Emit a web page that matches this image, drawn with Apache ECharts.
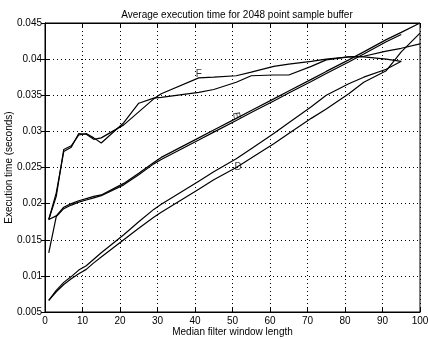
<!DOCTYPE html>
<html><head><meta charset="utf-8">
<script src="https://cdn.jsdelivr.net/npm/echarts@6/dist/echarts.min.js"></script>
<style>html,body{margin:0;padding:0;background:#fff}#c{width:428px;height:339px}</style>
</head><body><div id="c"></div>
<script>
var titleText = 'Average execution time for 2048 point sample buffer';
var xName = 'Median filter window length';
var yName = 'Execution time (seconds)';
var xTicks = [0,10,20,30,40,50,60,70,80,90,100];
var yTicks = [0.005,0.01,0.015,0.02,0.025,0.03,0.035,0.04,0.045];

var windowLen = [1,3,5,7,9,11,13,15,21,25,29,31,41,45,51,55,61,65,71,75,81,85,91,95,100];

var F1 = [0.0178,0.0215,0.0272,0.0278,0.0297,0.0296,0.0289,0.0291,0.0309,0.0327,0.0345,0.0352,0.0374,0.0375,0.0377,0.0382,0.0390,0.0393,0.0397,0.0400,0.0403,0.0404,0.0411,0.0415,0.0421];
var F2 = [0.0178,0.0210,0.0275,0.0280,0.0295,0.0297,0.0291,0.0284,0.0312,0.0339,0.0346,0.0347,0.0354,0.0358,0.0368,0.0377,0.0378,0.0378,0.0390,0.0399,0.0403,0.0403,0.0400,0.0397,null];
var E1 = [0.0178,0.0183,0.0195,0.0200,0.0204,0.0207,0.0210,0.0212,0.0228,0.0242,0.0257,0.0264,0.0291,0.0302,0.0318,0.0329,0.0345,0.0356,0.0372,0.0383,0.0399,0.0410,0.0427,0.0437,0.0450];
var E2 = [0.0132,0.0182,0.0193,0.0198,0.0202,0.0205,0.0208,0.0211,0.0226,0.0240,0.0255,0.0261,0.0288,0.0299,0.0315,0.0326,0.0342,0.0353,0.0369,0.0380,0.0396,0.0407,0.0424,0.0434,null];
var D1 = [0.0066,0.0080,0.0091,0.0099,0.0108,0.0114,0.0123,0.0132,0.0157,0.0175,0.0192,0.0199,0.0231,0.0244,0.0262,0.0276,0.0297,0.0312,0.0334,0.0350,0.0366,0.0375,0.0386,0.0397,null];
var D2 = [0.0066,0.0078,0.0088,0.0096,0.0103,0.0109,0.0118,0.0126,0.0150,0.0166,0.0181,0.0188,0.0220,0.0233,0.0250,0.0263,0.0283,0.0297,0.0318,0.0331,0.0352,0.0368,0.0384,0.0410,0.0436];

var labelText = ['F','E','D'];
var labelX = [41, 51, 51.5];
var labelY = [0.0379, 0.0322, 0.0251];
var labelRot = [0, -80, 0];

function pairs(ys){ var out=[]; for(var i=0;i<windowLen.length;i++){ if(ys[i]!=null) out.push([windowLen[i], ys[i]]);} return out; }
function lineSeries(name, ys){ return {name:name,type:'line',data:pairs(ys),symbol:'none',lineStyle:{color:'#000',width:1.2},silent:true,animation:false}; }

var font = 'Liberation Sans, Arial, sans-serif';
var chart = echarts.init(document.getElementById('c'), null, {renderer:'canvas'});
var gridSplit = {show:true,lineStyle:{color:'#000',type:[1,3],width:1}};
chart.setOption({
  animation:false,
  backgroundColor:'#fff',
  title:{text:titleText,left:232,top:5,textAlign:'center',textStyle:{fontFamily:font,fontSize:10,fontWeight:'normal',color:'#000'}},
  grid:{left:45,right:8,top:23,bottom:27,show:true,borderColor:'#000',borderWidth:1,backgroundColor:'transparent',outerBoundsMode:'none',containLabel:false},
  xAxis:[{type:'value',min:0,max:100,interval:10,name:xName,nameLocation:'middle',nameGap:15,nameMoveOverlap:false,
    nameTextStyle:{fontFamily:font,fontSize:10,color:'#000'},
    axisLine:{show:true,lineStyle:{color:'#000'}},axisTick:{inside:true,length:4,lineStyle:{color:'#000'}},
    axisLabel:{fontFamily:font,fontSize:10,color:'#000',margin:4,formatter:function(v){return xTicks.indexOf(v)>=0?String(v):'';}},
    splitLine:gridSplit},
   {type:'value',min:0,max:100,interval:10,position:'top',axisLine:{show:true,lineStyle:{color:'#000'}},axisTick:{inside:true,length:4,lineStyle:{color:'#000'}},axisLabel:{show:false},splitLine:{show:false}}],
  yAxis:[{type:'value',min:0.005,max:0.045,interval:0.005,name:yName,nameLocation:'middle',nameGap:31,nameMoveOverlap:false,
    nameTextStyle:{fontFamily:font,fontSize:10,color:'#000'},
    axisLine:{show:true,lineStyle:{color:'#000'}},axisTick:{inside:true,length:4,lineStyle:{color:'#000'}},
    axisLabel:{fontFamily:font,fontSize:10,color:'#000',margin:3,formatter:function(v){var r=+v.toFixed(3); return String(r);}},
    splitLine:gridSplit},
   {type:'value',min:0.005,max:0.045,interval:0.005,position:'right',axisLine:{show:true,lineStyle:{color:'#000'}},axisTick:{inside:true,length:4,lineStyle:{color:'#000'}},axisLabel:{show:false},splitLine:{show:false}}],
  series:[
    lineSeries('F1',F1),lineSeries('F2',F2),
    lineSeries('E1',E1),lineSeries('E2',E2),
    lineSeries('D1',D1),lineSeries('D2',D2),
    {type:'scatter',symbolSize:0,silent:true,animation:false,
     data:labelText.map(function(t,i){return {value:[labelX[i],labelY[i]],label:{show:true,formatter:t,position:'inside',rotate:labelRot[i],fontFamily:font,fontSize:10,color:'#000'}};})}
  ]
});
</script></body></html>
